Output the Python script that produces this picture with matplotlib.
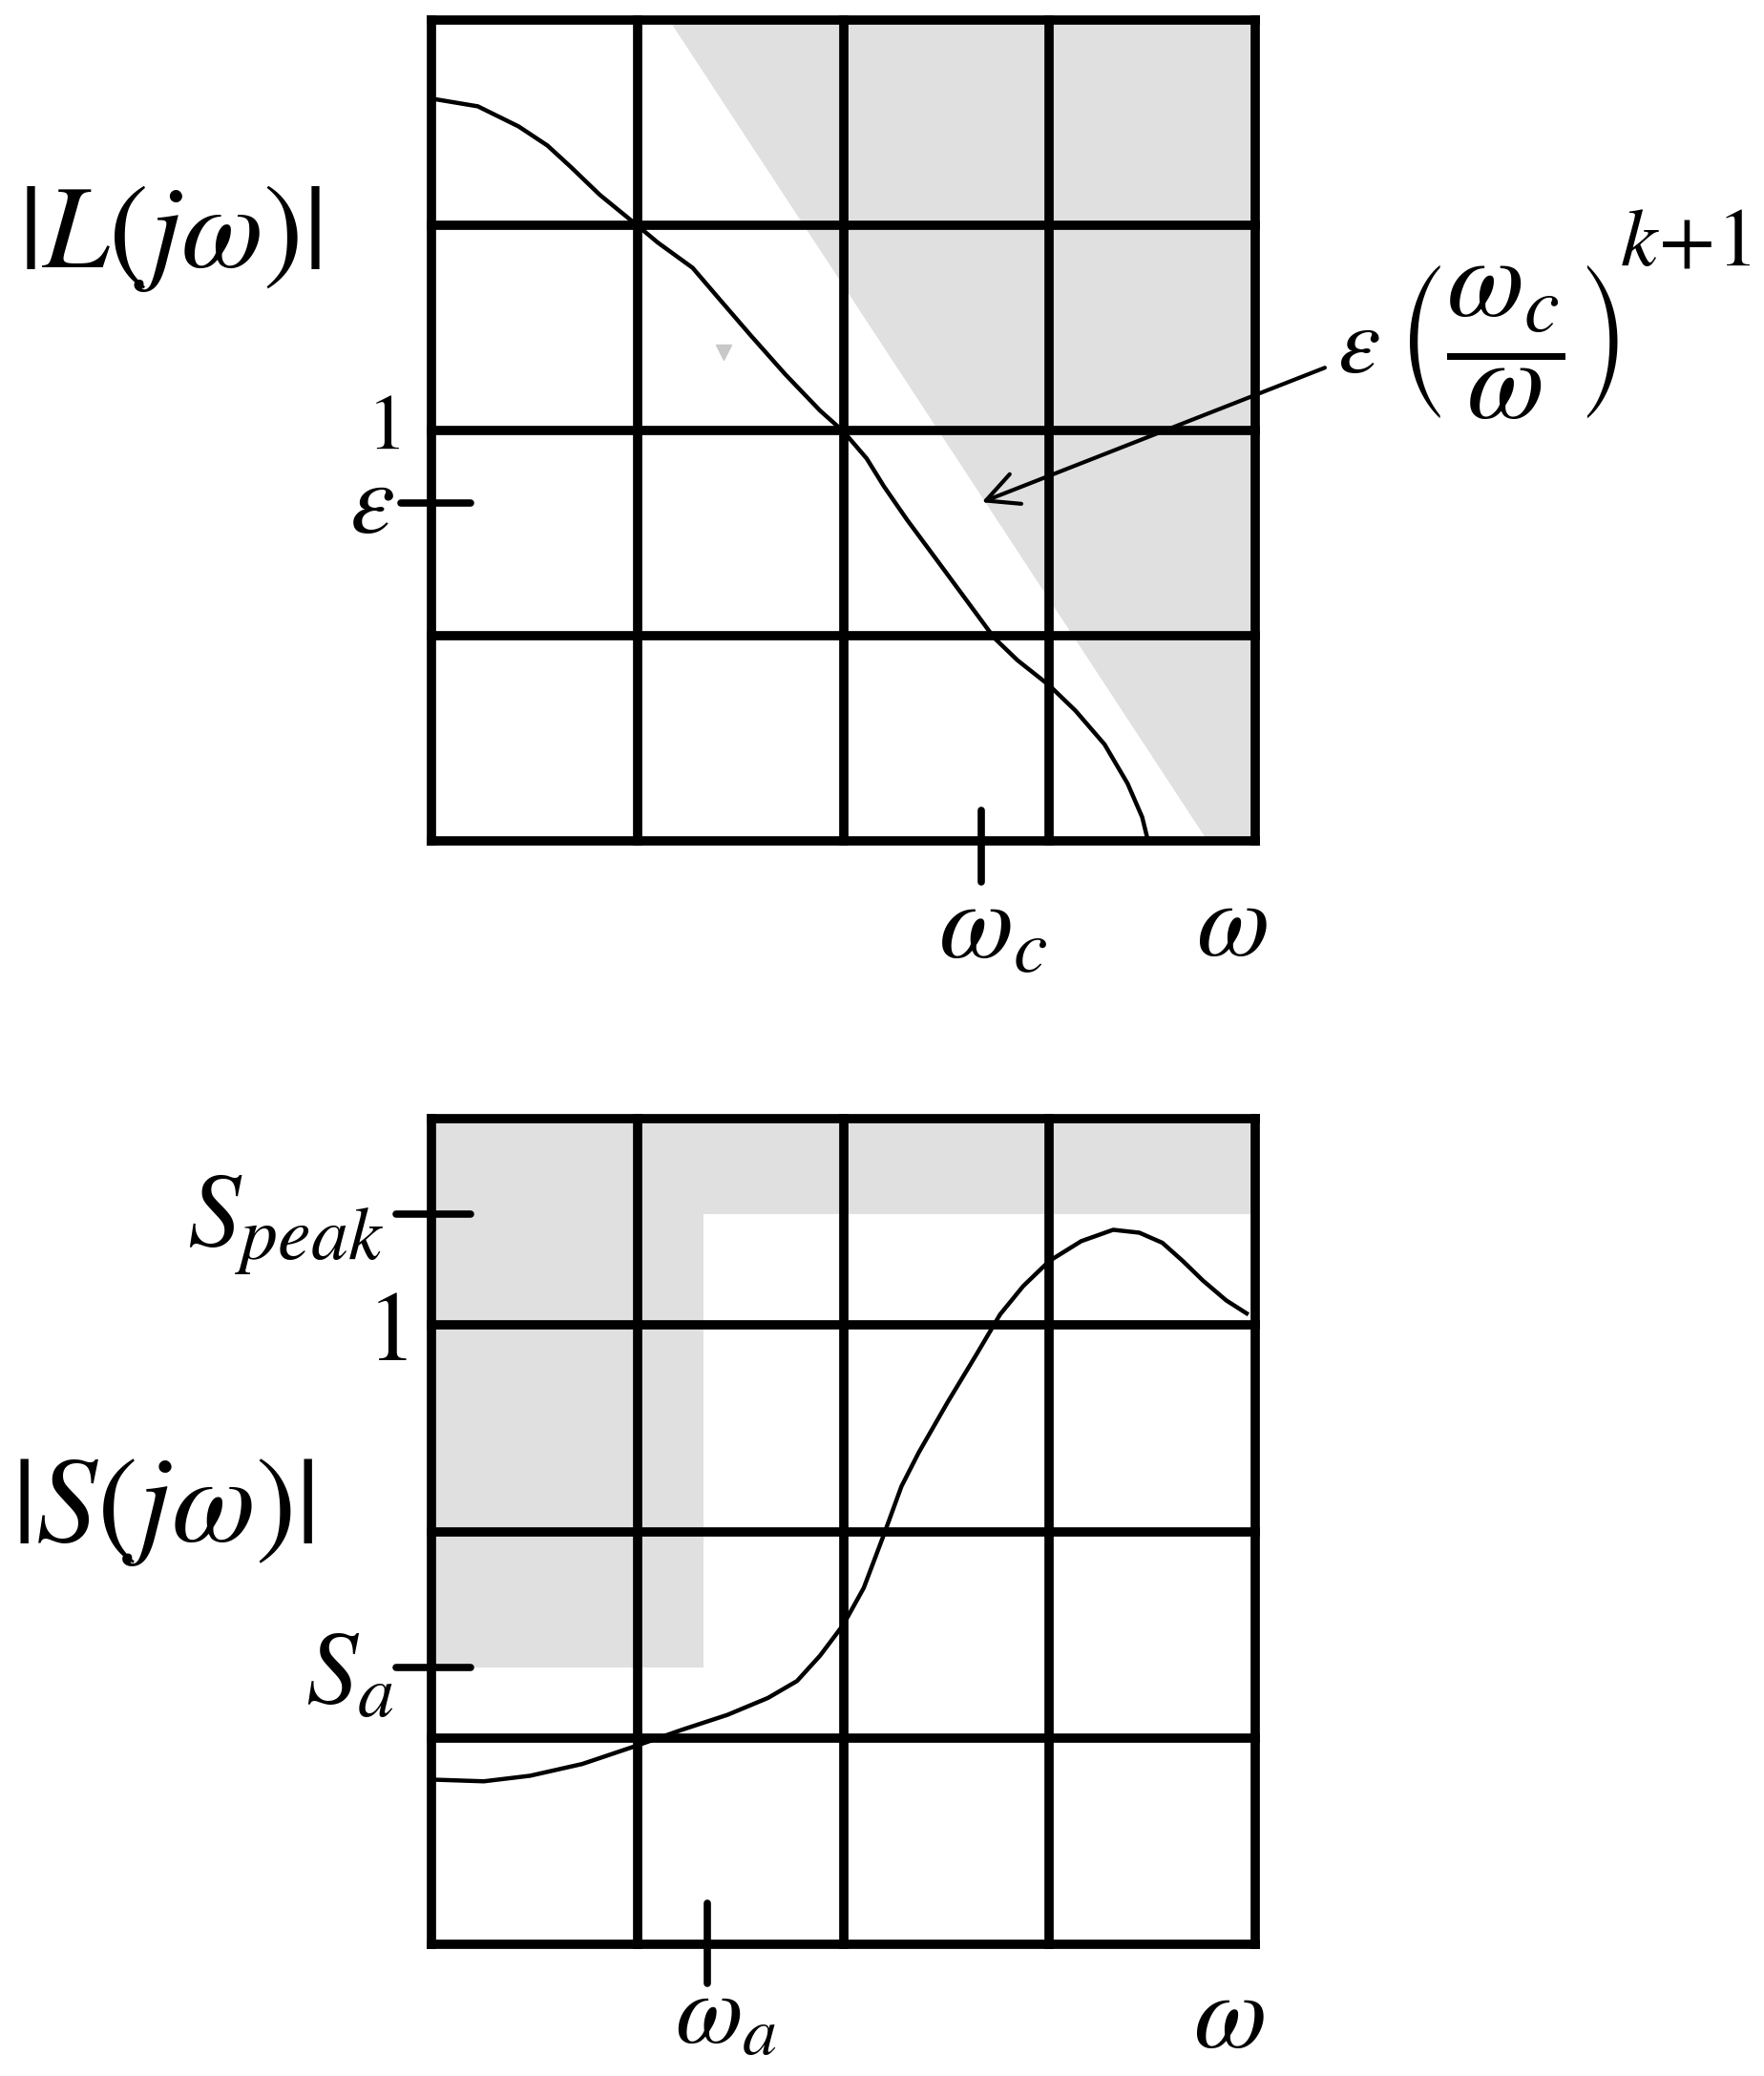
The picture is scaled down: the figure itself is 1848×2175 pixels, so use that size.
import matplotlib
matplotlib.use("Agg")
import matplotlib.pyplot as plt

plt.rcParams["mathtext.fontset"] = "stix"
plt.rcParams["font.family"] = ["STIXGeneral", "DejaVu Sans"]

# grid positions (4 x 4 cells)
grid_pos = [0, 1, 2, 3, 4]

# |L(jw)| curve (grid units)
loop_x = [0.028, 0.225, 0.423, 0.563, 0.676, 0.817, 0.994, 1.099, 1.268, 1.408,
          1.549, 1.718, 1.887, 2.0, 2.113, 2.197, 2.310, 2.451, 2.592, 2.732,
          2.845, 3.0, 3.127, 3.268, 3.380, 3.451, 3.479]
loop_y = [3.612, 3.579, 3.481, 3.388, 3.284, 3.148, 3.003, 2.915, 2.792, 2.628,
          2.464, 2.273, 2.096, 1.995, 1.863, 1.727, 1.563, 1.372, 1.180, 0.989,
          0.880, 0.757, 0.634, 0.470, 0.279, 0.115, 0.0]

# forbidden region for |L| : eps (wc/w)^(k+1) bound
loop_bound_x = [1.155, 4.0, 4.0, 3.77]
loop_bound_y = [4.0, 4.0, 0.0, 0.0]

# |S(jw)| curve
sens_x = [0.014, 0.254, 0.479, 0.732, 0.994, 1.211, 1.437, 1.634, 1.775, 1.887,
          2.0, 2.099, 2.197, 2.282, 2.366, 2.507, 2.648, 2.761, 2.873, 3.0,
          3.155, 3.31, 3.437, 3.549, 3.648, 3.746, 3.859, 3.958]
sens_y = [0.798, 0.790, 0.817, 0.874, 0.962, 1.038, 1.112, 1.194, 1.276, 1.399,
          1.549, 1.727, 1.986, 2.219, 2.383, 2.628, 2.861, 3.052, 3.189, 3.311,
          3.407, 3.462, 3.448, 3.399, 3.311, 3.216, 3.120, 3.057]

# forbidden region for |S| (L shape)
s_peak = 3.54
s_a = 1.34
w_a = 1.32
sens_bound_x = [0, 4, 4, w_a, w_a, 0]
sens_bound_y = [4, 4, s_peak, s_peak, s_a, s_a]

# marked levels / frequencies
eps_level = 1.645
w_c = 2.67
w_a_tick = 1.34

SHADE = "#e0e0e0"
GRID_LW = 7.0
CURVE_LW = 3.2


def draw_grid(ax):
    for p in grid_pos:
        ax.plot([p, p], [0, 4], color="black", lw=GRID_LW,
                solid_capstyle="projecting", zorder=3, clip_on=False)
        ax.plot([0, 4], [p, p], color="black", lw=GRID_LW,
                solid_capstyle="projecting", zorder=3, clip_on=False)
    ax.set_xlim(0, 4)
    ax.set_ylim(0, 4)
    ax.axis("off")


def tick(ax, xs, ys):
    ax.plot(xs, ys, color="black", lw=5.5, zorder=4, clip_on=False,
            solid_capstyle="round")


fig = plt.figure(figsize=(18.48, 21.75), dpi=100)

# ---- top: loop gain ----
ax1 = fig.add_axes([0.2446, 0.595, 0.467, 0.3954])
ax1.fill(loop_bound_x, loop_bound_y, color=SHADE, lw=0, zorder=1)
draw_grid(ax1)
ax1.plot(loop_x, loop_y, color="black", lw=CURVE_LW, zorder=5)
ax1.plot([1.42], [2.38], marker="v", ms=11, color="#c8c8c8", zorder=2)

tick(ax1, [-0.15, 0.19], [eps_level, eps_level])
tick(ax1, [w_c, w_c], [0.15, -0.2])

ax1.annotate("", xy=(2.66, 1.645), xytext=(4.35, 2.31),
             arrowprops=dict(arrowstyle="->", lw=3, mutation_scale=60,
                             color="black"),
             annotation_clip=False, zorder=6)

ax1.text(-1.273, 2.935, r"$|L(j\omega)|$", fontsize=90, ha="center", va="center")
ax1.text(-0.235, 2.0, r"$1$", fontsize=60, ha="center", va="center")
ax1.text(-0.289, 1.616, r"$\varepsilon$", fontsize=76, ha="center", va="center")
ax1.text(2.727, -0.45, r"$\omega_c$", fontsize=82, ha="center", va="center")
ax1.text(3.884, -0.44, r"$\omega$", fontsize=80, ha="center", va="center")

# bound formula: eps (wc / w)^(k+1)
ax1.text(4.50, 2.39, r"$\varepsilon$", fontsize=72, ha="center", va="center")
ax1.text(5.23, 2.43, r"$\left(\dfrac{\omega_c}{\omega}\right)$",
         fontsize=85, ha="center", va="center")
ax1.text(6.09, 2.90, r"$k\!+\!1$", fontsize=62, ha="center", va="center")

# ---- bottom: sensitivity ----
ax2 = fig.add_axes([0.2446, 0.0634, 0.467, 0.3977])
ax2.fill(sens_bound_x, sens_bound_y, color=SHADE, lw=0, zorder=1)
draw_grid(ax2)
ax2.plot(sens_x, sens_y, color="black", lw=CURVE_LW, zorder=5)

tick(ax2, [-0.17, 0.19], [s_peak, s_peak])
tick(ax2, [-0.17, 0.19], [s_a, s_a])
tick(ax2, [w_a_tick, w_a_tick], [0.2, -0.19])

ax2.text(-0.232, 3.486, r"$S_{peak}$", fontsize=80, ha="right", va="center")
ax2.text(-0.219, 2.94, r"$1$", fontsize=74, ha="center", va="center")
ax2.text(-1.305, 2.093, r"$|S(j\omega)|$", fontsize=92, ha="center", va="center")
ax2.text(-0.40, 1.284, r"$S_a$", fontsize=78, ha="center", va="center")
ax2.text(1.43, -0.365, r"$\omega_a$", fontsize=74, ha="center", va="center")
ax2.text(3.87, -0.38, r"$\omega$", fontsize=80, ha="center", va="center")

fig.savefig("out.png", dpi=100, facecolor="white")
